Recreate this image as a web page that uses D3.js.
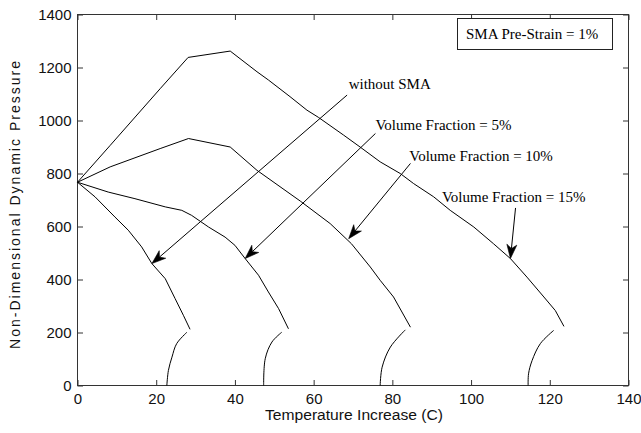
<!DOCTYPE html>
<html>
<head>
<meta charset="utf-8">
<script src="https://cdn.jsdelivr.net/npm/d3@7"></script>
<style>
  html, body { margin: 0; padding: 0; background: #fff; }
  svg { display: block; }
</style>
</head>
<body>
<svg id="chart" width="641" height="433"></svg>
<script>
// ---------- data ----------
const tempTicks = [0, 20, 40, 60, 80, 100, 120, 140];
const pressureTicks = [0, 200, 400, 600, 800, 1000, 1200, 1400];

// without SMA
const noSmaUpperT = [0, 4.45, 9.5, 12.9, 16.3, 18.9, 22.3, 24.8, 26.9, 28.6];
const noSmaUpperP = [767, 712, 636, 586, 523, 460, 403, 328, 265, 212];
const noSmaLowerT = [22.7, 23.1, 24.0, 25.2, 27.8];
const noSmaLowerP = [0, 57, 107, 158, 201];

// Volume fraction 5%
const vf5UpperT = [0, 7.8, 14.6, 22.3, 26.5, 29, 33.3, 37.5, 40, 42.6, 46, 48.5, 51.1, 53.6];
const vf5UpperP = [767, 730, 705, 674, 661, 642, 598, 560, 529, 479, 416, 353, 290, 214];
const vf5LowerT = [47.3, 47.7, 49.4, 51.9];
const vf5LowerP = [0, 101, 164, 201];

// Volume fraction 10%
const vf10UpperT = [0, 8.3, 21, 28.2, 38.8, 45.6, 56.6, 64.2, 69.6, 74.4, 76.9, 80.3, 84.6];
const vf10UpperP = [767, 825, 894, 932, 900, 812, 696, 611, 535, 447, 397, 334, 220];
const vf10LowerT = [76.9, 77.4, 79.5, 83.3];
const vf10LowerP = [0, 69, 145, 210];

// Volume fraction 15%
const vf15UpperT = [0, 8.3, 21, 28.1, 38.8, 45.6, 48.5, 54, 58.3, 61.2, 67.6, 71.8, 76.9, 82, 85.4, 90.5, 94.7, 100.7, 105.7, 110, 114.2, 118.5, 121.4, 123.6];
const vf15UpperP = [767, 906, 1120, 1238, 1262, 1184, 1153, 1090, 1039, 1012, 945, 900, 844, 800, 762, 712, 661, 598, 535, 479, 409, 334, 283, 223];
const vf15LowerT = [114.5, 114.6, 115.5, 117.6, 121];
const vf15LowerP = [0, 44, 94, 158, 208];

// annotations: label text, label anchor (T, P), arrow tail (T, P), arrow tip (T, P)
const annoLabels = ["without SMA", "Volume Fraction = 5%", "Volume Fraction = 10%", "Volume Fraction = 15%"];
const annoTextT = [68.9, 75.7, 84.3, 92.6];
const annoTextP = [1118, 965, 846, 691];
const arrowTailT = [68.5, 75.7, 84.6, 111.3];
const arrowTailP = [1096, 951, 838, 670];
const arrowTipT = [18.9, 42.6, 68.9, 110.0];
const arrowTipP = [460, 479, 554, 479];

const boxLabel = "SMA Pre-Strain = 1%";
const xLabel = "Temperature Increase (C)";
const yLabel = "Non-Dimensional Dynamic Pressure";

// ---------- layout ----------
const plotL = 77.5, plotR = 628.5, plotT = 14.5, plotB = 385.5;

const svg = d3.select("#chart");
const x = d3.scaleLinear().domain([0, 140]).range([plotL, plotR]);
const y = d3.scaleLinear().domain([0, 1400]).range([plotB, plotT]);

const axisColor = "#333";
const tickFont = "'Liberation Sans', Arial, sans-serif";
const serif = "'Liberation Serif', 'Times New Roman', serif";
const fmt = d3.format("d");

// axes with inward ticks on all four sides
const gB = svg.append("g").attr("transform", `translate(0,${plotB})`)
  .call(d3.axisBottom(x).tickValues(tempTicks).tickFormat(fmt).tickSizeInner(-5.5).tickSizeOuter(0).tickPadding(8));
const gL = svg.append("g").attr("transform", `translate(${plotL},0)`)
  .call(d3.axisLeft(y).tickValues(pressureTicks).tickFormat(fmt).tickSizeInner(-5.5).tickSizeOuter(0).tickPadding(6));
const gT = svg.append("g").attr("transform", `translate(0,${plotT})`)
  .call(d3.axisTop(x).tickValues(tempTicks).tickSizeInner(-5.5).tickSizeOuter(0).tickFormat(""));
const gR = svg.append("g").attr("transform", `translate(${plotR},0)`)
  .call(d3.axisRight(y).tickValues(pressureTicks).tickSizeInner(-5.5).tickSizeOuter(0).tickFormat(""));

[gB, gL, gT, gR].forEach(g => {
  g.select(".domain").remove();
  g.selectAll(".tick line").attr("stroke", axisColor);
  g.selectAll(".tick text").attr("fill", "#111").style("font-family", tickFont).style("font-size", "15px");
});

svg.append("rect")
  .attr("x", plotL).attr("y", plotT)
  .attr("width", plotR - plotL).attr("height", plotB - plotT)
  .attr("fill", "none").attr("stroke", axisColor).attr("stroke-width", 1);

// axis labels
svg.append("text")
  .attr("x", (plotL + plotR) / 2 + 1).attr("y", 420)
  .attr("text-anchor", "middle")
  .attr("textLength", 178).attr("lengthAdjust", "spacingAndGlyphs")
  .style("font-family", tickFont).style("font-size", "14px").attr("fill", "#111")
  .text(xLabel);

svg.append("text")
  .attr("transform", `translate(20,${(plotT + plotB) / 2 + 5}) rotate(-90)`)
  .attr("text-anchor", "middle")
  .attr("textLength", 288).attr("lengthAdjust", "spacing")
  .style("font-family", tickFont).style("font-size", "14px").attr("fill", "#111")
  .text(yLabel);

// curves
const zip = (a, b) => a.map((v, i) => [v, b[i]]);
const upperLine = d3.line().x(d => x(d[0])).y(d => y(d[1]));
const lowerLine = d3.line().x(d => x(d[0])).y(d => y(d[1])).curve(d3.curveCatmullRom.alpha(0.5));
const upperBranches = [
  zip(noSmaUpperT, noSmaUpperP), zip(vf5UpperT, vf5UpperP),
  zip(vf10UpperT, vf10UpperP), zip(vf15UpperT, vf15UpperP)
];
const lowerBranches = [
  zip(noSmaLowerT, noSmaLowerP), zip(vf5LowerT, vf5LowerP),
  zip(vf10LowerT, vf10LowerP), zip(vf15LowerT, vf15LowerP)
];
const curves = svg.append("g").attr("fill", "none").attr("stroke", "#000")
  .attr("stroke-width", 1).attr("stroke-linejoin", "round");
curves.selectAll("path.up").data(upperBranches).join("path").attr("class", "up").attr("d", upperLine);
curves.selectAll("path.low").data(lowerBranches).join("path").attr("class", "low").attr("d", lowerLine);

// annotation arrows
const arrows = svg.append("g");
annoLabels.forEach((lab, i) => {
  const x0 = x(arrowTailT[i]), y0 = y(arrowTailP[i]);
  const x1 = x(arrowTipT[i]), y1 = y(arrowTipP[i]);
  const dx = x1 - x0, dy = y1 - y0, len = Math.hypot(dx, dy);
  const ux = dx / len, uy = dy / len, nx = -uy, ny = ux;
  const hl = 14, hw = 5, notch = 10;
  arrows.append("line")
    .attr("x1", x0).attr("y1", y0)
    .attr("x2", x1 - ux * notch).attr("y2", y1 - uy * notch)
    .attr("stroke", "#000").attr("stroke-width", 1);
  const pts = [
    [x1, y1],
    [x1 - ux * hl + nx * hw, y1 - uy * hl + ny * hw],
    [x1 - ux * notch, y1 - uy * notch],
    [x1 - ux * hl - nx * hw, y1 - uy * hl - ny * hw]
  ];
  arrows.append("path")
    .attr("d", "M" + pts.map(p => p.join(",")).join("L") + "Z")
    .attr("fill", "#000").attr("stroke", "#000").attr("stroke-width", 0.6);
  svg.append("text")
    .attr("x", x(annoTextT[i])).attr("y", y(annoTextP[i]))
    .style("font-family", serif).style("font-size", "15px").attr("fill", "#000")
    .text(lab);
});

// info box
const bx0 = plotR - 172, by0 = plotT + 4, bw = 155, bh = 31;
svg.append("rect")
  .attr("x", Math.round(bx0) + 0.5).attr("y", by0)
  .attr("width", bw).attr("height", bh)
  .attr("fill", "#fff").attr("stroke", "#222").attr("stroke-width", 1);
svg.append("text")
  .attr("x", Math.round(bx0) + 9).attr("y", by0 + 20.5)
  .style("font-family", serif).style("font-size", "15px").attr("fill", "#000")
  .text(boxLabel);
</script>
</body>
</html>
